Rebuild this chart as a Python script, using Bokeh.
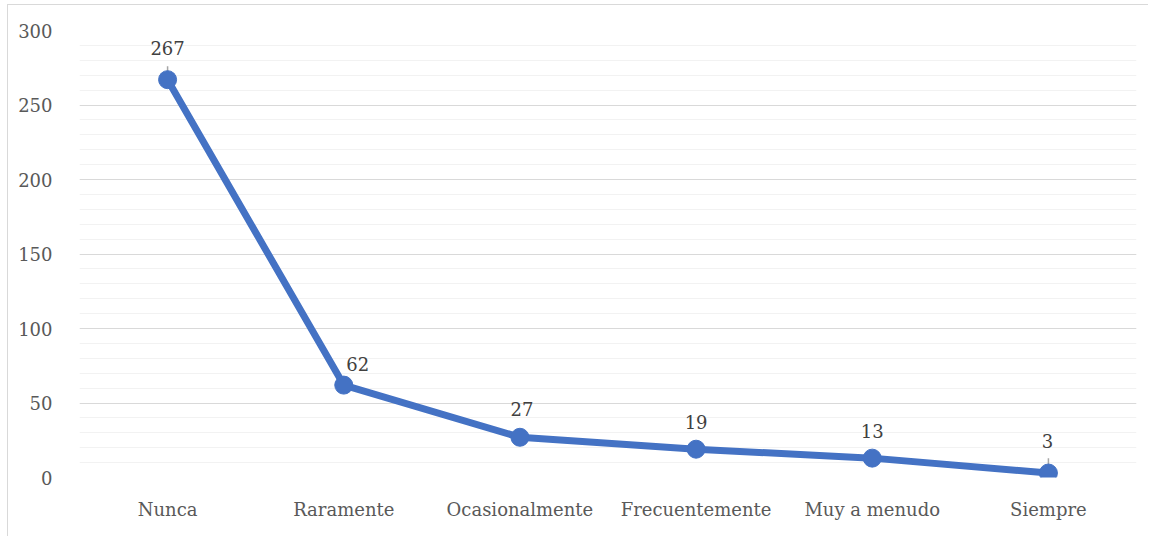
from bokeh.plotting import figure
from bokeh.models import ColumnDataSource, FactorRange, Range1d, SingleIntervalTicker
from bokeh.core.properties import value
from bokeh.embed import file_html
from bokeh.resources import INLINE

categories = ["Nunca", "Raramente", "Ocasionalmente", "Frecuentemente", "Muy a menudo", "Siempre"]
counts = [267, 62, 27, 19, 13, 3]

FONT = "DejaVu Serif"
BLUE = "#4472C4"

# label placement (style)
label_dx = [0, 14, 2, 0, 0, -1]
label_dy = [-32, -21, -28, -27, -27, -32]

src = ColumnDataSource(dict(
    cat=categories, val=counts, lab=[str(v) for v in counts],
    dx=label_dx, dy=label_dy,
))

p = figure(width=1141, height=532, x_range=FactorRange(factors=categories, range_padding=0),
           y_range=Range1d(0, 300), output_backend="svg", toolbar_location=None,
           min_border_left=71, min_border_right=13, min_border_top=25, min_border_bottom=60)
p.outline_line_color = None
p.background_fill_color = "white"
p.border_fill_color = "white"
# outer chart border
p.styles = {"margin-left": "7px", "margin-top": "4px",
            "border-left": "1px solid #d9d9d9", "border-top": "1px solid #d9d9d9"}

p.yaxis.ticker = SingleIntervalTicker(interval=50, num_minor_ticks=5)
p.ygrid.ticker = p.yaxis.ticker
p.ygrid.grid_line_color = "#d9d9d9"
p.ygrid.minor_grid_line_color = "#f2f2f2"
p.xgrid.grid_line_color = None

for ax in (p.xaxis, p.yaxis):
    ax.axis_line_color = None
    ax.major_tick_line_color = None
    ax.minor_tick_line_color = None
    ax.major_tick_out = 0
    ax.major_label_text_font = FONT
    ax.major_label_text_font_size = "18px"
    ax.major_label_text_color = "#595959"
p.yaxis.major_label_standoff = 23
p.xaxis.major_label_standoff = 21

# leader lines for two labels
lead = ColumnDataSource(dict(cat=[categories[0], categories[5]],
                             y0=[counts[0], counts[5]],
                             y1=[counts[0] + 9, counts[5] + 10]))
p.segment(x0="cat", y0="y0", x1="cat", y1="y1", source=lead, line_color="#a6a6a6", line_width=1.5)

p.line(x="cat", y="val", source=src, line_color=BLUE, line_width=7)
p.scatter(x="cat", y="val", source=src, size=18, fill_color=BLUE, line_color=BLUE)

p.text(x="cat", y="val", text="lab", source=src, x_offset="dx", y_offset="dy",
       text_font=value(FONT), text_font_size="18px", text_color="#404040",
       text_align="center", text_baseline="middle")

open("out.html", "w").write(file_html(p, INLINE))
